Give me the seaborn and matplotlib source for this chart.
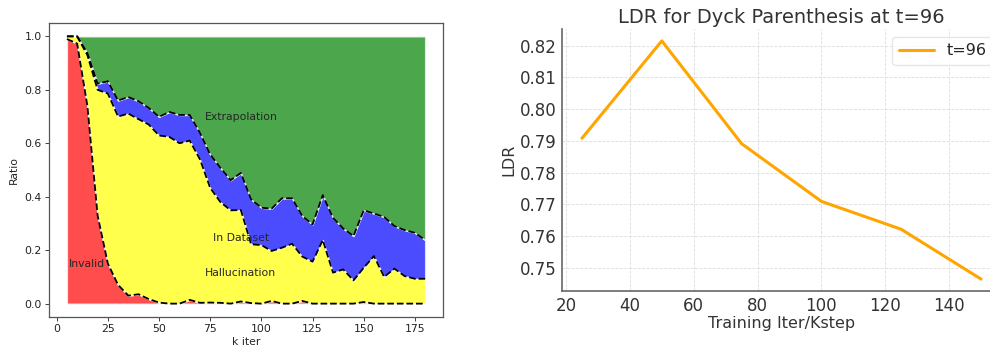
import matplotlib
matplotlib.use('Agg')
import matplotlib.pyplot as plt
import numpy as np
import seaborn as sns

# left panel: share of generated samples per category
k_iter = [5, 10, 15, 20, 25, 30, 35, 40, 45, 50, 55, 60, 65, 70, 75, 80, 85, 90,
          95, 100, 105, 110, 115, 120, 125, 130, 135, 140, 145, 150, 155, 160, 165, 170, 175, 180]
invalid = [0.99, 0.973, 0.74, 0.33, 0.15, 0.07, 0.03, 0.035, 0.017, 0.004, 0.0, 0.0,
           0.014, 0.003, 0.004, 0.003, 0.0, 0.008, 0.002, 0.0, 0.01, 0.0, 0.0, 0.01,
           0.0, 0.0, 0.0, 0.0, 0.0, 0.006, 0.0, 0.0, 0.0, 0.0, 0.0, 0.0]
hallucination = [0.01, 0.027, 0.19, 0.47, 0.636, 0.63, 0.681, 0.655, 0.653, 0.625, 0.624, 0.6,
                 0.596, 0.537, 0.429, 0.377, 0.349, 0.342, 0.22, 0.219, 0.187, 0.209, 0.224, 0.166,
                 0.157, 0.238, 0.116, 0.128, 0.087, 0.128, 0.178, 0.1, 0.131, 0.103, 0.093, 0.093]
in_dataset = [0.0, 0.0, 0.008, 0.023, 0.046, 0.06, 0.062, 0.067, 0.062, 0.07, 0.093, 0.106,
              0.096, 0.099, 0.125, 0.128, 0.113, 0.139, 0.168, 0.14, 0.158, 0.185, 0.17, 0.152,
              0.139, 0.168, 0.205, 0.153, 0.166, 0.215, 0.159, 0.224, 0.159, 0.172, 0.172, 0.145]
extrapolation = [0.0, 0.0, 0.062, 0.177, 0.168, 0.24, 0.227, 0.243, 0.268, 0.301, 0.283, 0.294,
                 0.294, 0.361, 0.442, 0.492, 0.538, 0.511, 0.61, 0.641, 0.645, 0.606, 0.606, 0.672,
                 0.704, 0.594, 0.679, 0.719, 0.747, 0.651, 0.663, 0.676, 0.71, 0.725, 0.735, 0.762]

# right panel: LDR over training
kstep = [25, 50, 75, 100, 125, 150]
ldr = [0.7908, 0.8215, 0.7891, 0.7709, 0.7621, 0.7464]

sns.set_style('white')
plt.rcParams['font.family'] = ['DejaVu Sans']

fig = plt.figure(figsize=(9.9, 3.5), dpi=100)

# left
ax1 = fig.add_axes([0.0495, 0.0943, 0.398, 0.84])
ax1.stackplot(k_iter, invalid, hallucination, in_dataset, extrapolation,
              colors=['red', 'yellow', 'blue', 'green'], alpha=0.7)
cum = np.cumsum([invalid, hallucination, in_dataset], axis=0)
for row in cum:
    ax1.plot(k_iter, row, color='black', ls='--', lw=1.3)
fs = 7.8
ax1.text(15, 0.15, 'Invalid', ha='center', va='center', fontsize=fs)
ax1.text(90, 0.115, 'Hallucination', ha='center', va='center', fontsize=fs)
ax1.text(90, 0.245, 'In Dataset', ha='center', va='center', fontsize=fs)
ax1.text(90, 0.697, 'Extrapolation', ha='center', va='center', fontsize=fs)
ax1.set_xlim(-3.75, 188.75)
ax1.set_ylim(-0.05, 1.05)
ax1.set_xlabel('k iter', fontsize=fs, labelpad=2)
ax1.set_ylabel('Ratio', fontsize=fs, labelpad=4)
ax1.set_xticks([0, 25, 50, 75, 100, 125, 150, 175])
ax1.set_yticks([0.0, 0.2, 0.4, 0.6, 0.8, 1.0])
ax1.tick_params(labelsize=fs, length=2.7, width=0.6, pad=2.5, colors='#222')
ax1.tick_params(axis='both', which='both', bottom=True, left=True)
for s in ax1.spines.values():
    s.set_color('#555')
    s.set_linewidth(0.9)

# right
ax2 = fig.add_axes([0.5677, 0.1686, 0.4434, 0.7486])
sns.lineplot(x=kstep, y=ldr, ax=ax2, color='orange', lw=2.2, label='t=96')
ax2.set_title('LDR for Dyck Parenthesis at t=96', fontsize=14, color='#333', pad=4)
ax2.set_xlabel('Training Iter/Kstep', fontsize=11.5, color='#333', labelpad=1)
ax2.set_ylabel('LDR', fontsize=11.5, color='#333', labelpad=2)
ax2.set_xticks([20, 40, 60, 80, 100, 120, 140])
ax2.set_yticks([0.75, 0.76, 0.77, 0.78, 0.79, 0.80, 0.81, 0.82])
ax2.yaxis.set_major_formatter(matplotlib.ticker.FormatStrFormatter('%.2f'))
ax2.tick_params(labelsize=12, length=0, pad=4, colors='#333')
ax2.grid(True, ls='--', lw=0.6, color='#dddddd')
ax2.spines['top'].set_visible(False)
ax2.spines['right'].set_visible(False)
for s in ['left', 'bottom']:
    ax2.spines[s].set_color('#666')
    ax2.spines[s].set_linewidth(1.2)
leg = ax2.legend(loc='upper right', fontsize=11.5, frameon=True, handlelength=2.2)
leg.get_frame().set_edgecolor('#e0e0e0')

fig.savefig('out.png', dpi=100)
